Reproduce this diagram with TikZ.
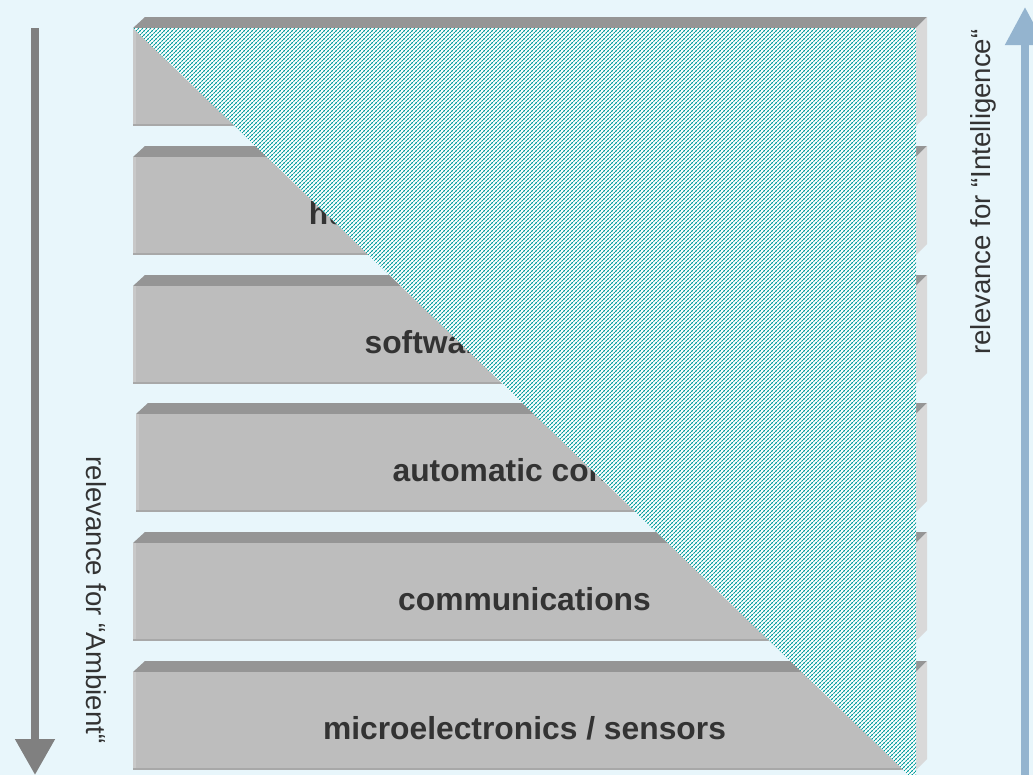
\documentclass[tikz,border=0pt]{standalone}
\usepackage{fontspec}
\setmainfont{Liberation Sans}
\usetikzlibrary{patterns,arrows.meta}

\definecolor{bg}{HTML}{E8F6FB}
\definecolor{slabfront}{HTML}{BDBDBD}
\definecolor{slabtop}{HTML}{959595}
\definecolor{slabside}{HTML}{D9D9D9}
\definecolor{slabedge}{HTML}{C8C8C8}
\definecolor{slabbottom}{HTML}{A8A8A8}
\definecolor{hatchteal}{HTML}{009C9C}
\definecolor{ambientgray}{HTML}{808080}
\definecolor{intelblue}{HTML}{94B4CF}
\definecolor{labeltext}{HTML}{333333}

% fine dotted diagonal hatching for the "intelligence" wedge
\pgfdeclarepatternformonly{tealhatch}{\pgfqpoint{-1pt}{-1pt}}{\pgfqpoint{4pt}{4pt}}{\pgfqpoint{3pt}{3pt}}{%
  \pgfsetlinewidth{0.55pt}%
  \pgfsetdash{{1.6pt}{0.6pt}}{0pt}%
  \pgfpathmoveto{\pgfqpoint{-0.5pt}{-0.5pt}}%
  \pgfpathlineto{\pgfqpoint{3.5pt}{3.5pt}}%
  \pgfusepath{stroke}}

\tikzset{
  layerlabel/.style={font=\fontsize{23.85}{28}\selectfont\bfseries, text=labeltext, anchor=base, inner sep=0pt},
  sidelabel/.style={font=\fontsize{20.7}{24}\selectfont, text=labeltext, inner sep=0pt},
}

% one layer slab: #1 node name, #2 left x, #3 top y of front face, #4 label
\newcommand\layerslab[4]{%
  \fill[slabtop] (#2,#3) -- ({#2+12},{#3-11}) -- (927,{#3-11}) -- (916,#3) -- cycle;
  \fill[slabside] (916,#3) -- (927,{#3-11}) -- (927,{#3+87}) -- (916,{#3+98}) -- cycle;
  \fill[slabfront] (#2,#3) rectangle (916,{#3+98});
  \fill[slabedge] (#2,#3) rectangle ({#2+3},{#3+98});
  \fill[slabbottom] (#2,{#3+96}) rectangle (916,{#3+98});
  \node[layerlabel] (#1) at ({(#2+916)/2},{#3+67}) {#4};
}

\begin{document}
\begin{tikzpicture}[x=0.75pt,y=-0.75pt]
  \useasboundingbox (0,0) rectangle (1033,775);
  \fill[bg] (0,0) rectangle (1033,775);

  % stack of layers
  \layerslab{ai}{133}{28}{}
  \layerslab{hci}{133}{157}{human-computer interaction}
  \layerslab{sw}{133}{286}{software engineering}
  \layerslab{ctrl}{136}{414}{automatic control}
  \layerslab{comm}{133}{543}{communications}
  \layerslab{micro}{133}{672}{microelectronics / sensors}

  % hatched wedge
  \coordinate (wedgeA) at (133,28);
  \coordinate (wedgeB) at (916,28);
  \coordinate (wedgeC) at (916,782);
  \fill[white] (wedgeA) -- (wedgeB) -- (wedgeC) -- cycle;
  \fill[pattern=tealhatch, pattern color=hatchteal] (wedgeA) -- (wedgeB) -- (wedgeC) -- cycle;

  % "Ambient" arrow, pointing down
  \coordinate (ambStart) at (35,28);
  \coordinate (ambEnd) at (35,775);
  \draw[ambientgray, line width=6pt, -{Triangle[width=28.5pt,length=27pt]}] (ambStart) -- (ambEnd);
  \node[sidelabel, rotate=-90] (ambLabel) at (96,600) {relevance for “Ambient“};

  % "Intelligence" arrow, pointing up
  \coordinate (intStart) at (1025,790);
  \coordinate (intEnd) at (1025,7);
  \draw[intelblue, line width=6pt, -{Triangle[width=28.5pt,length=28.5pt]}] (intStart) -- (intEnd);
  \node[sidelabel, rotate=90] (intLabel) at (983,192) {relevance for “Intelligence“};
\end{tikzpicture}
\end{document}
